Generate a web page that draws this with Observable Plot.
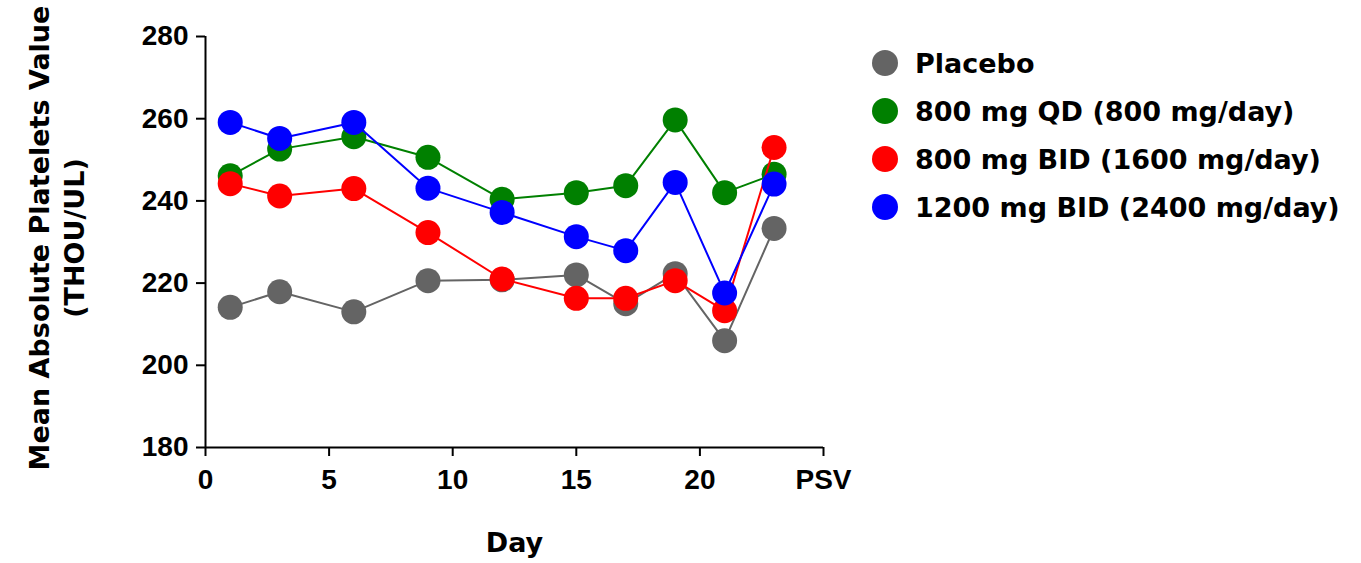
<!DOCTYPE html>
<html>
<head>
<meta charset="utf-8">
<script src="https://cdn.jsdelivr.net/npm/d3@7"></script>
<script src="https://cdn.jsdelivr.net/npm/@observablehq/plot@0.6"></script>
<style>
  html, body { margin: 0; padding: 0; background: #fff; }
  #wrap { position: relative; width: 1361px; height: 563px; }
  #legend { position: absolute; left: 872px; top: 39px; font-family: "DejaVu Sans", sans-serif; font-weight: bold; font-size: 27px; color: #000; }
  .item { display: flex; align-items: center; height: 48px; }
  .sw { width: 26px; height: 26px; border-radius: 50%; margin-right: 17px; }
</style>
</head>
<body>
<div id="wrap"><div id="chart"></div><div id="legend"></div></div>
<script>
const days = [1, 3, 6, 9, 12, 15, 17, 19, 21, 23];
const seriesNames = ["Placebo", "800 mg QD (800 mg/day)", "800 mg BID (1600 mg/day)", "1200 mg BID (2400 mg/day)"];
const seriesColors = ["#646464", "#008000", "#ff0000", "#0000ff"];
const placebo = [214.1, 217.9, 213.0, 220.6, 220.8, 222.0, 215.0, 222.3, 206.0, 233.3];
const qd800   = [246.1, 252.6, 255.6, 250.6, 240.4, 242.0, 243.7, 259.7, 242.0, 246.5];
const bid800  = [244.2, 241.2, 243.0, 232.3, 221.0, 216.3, 216.3, 220.6, 213.3, 253.0];
const bid1200 = [259.1, 255.2, 259.1, 243.1, 237.2, 231.3, 227.9, 244.5, 217.6, 244.1];
const xTicks = [0, 5, 10, 15, 20, 25];
const xTickLabels = ["0", "5", "10", "15", "20", "PSV"];
const yTicks = [180, 200, 220, 240, 260, 280];

const allValues = [placebo, qd800, bid800, bid1200];
const seriesMarks = [];
allValues.forEach((vals, i) => {
  const rows = days.map((d, j) => ({day: d, value: vals[j], series: seriesNames[i]}));
  seriesMarks.push(Plot.line(rows, {x: "day", y: "value", stroke: seriesColors[i], strokeWidth: 2}));
  seriesMarks.push(Plot.dot(rows, {x: "day", y: "value", fill: seriesColors[i], r: 12.5}));
});

const plot = Plot.plot({
  width: 1361,
  height: 563,
  marginLeft: 205,
  marginRight: 538,
  marginTop: 36,
  marginBottom: 116,
  style: {fontFamily: "'Liberation Sans', Arial, sans-serif", fontWeight: "bold", fontSize: "28px", color: "#000", background: "#fff"},
  x: {domain: [0, 25]},
  y: {domain: [180, 280]},
  marks: [
    Plot.axisX({ticks: xTicks, tickFormat: (d) => xTickLabels[xTicks.indexOf(d)], tickSize: 9, tickPadding: 13, strokeWidth: 2,
      label: null}),
    Plot.axisX({ticks: [], label: "Day", labelAnchor: "center", labelArrow: "none", labelOffset: 104,
      fontFamily: "'DejaVu Sans', sans-serif", fontSize: 27}),
    Plot.axisY({ticks: yTicks, tickSize: 9, tickPadding: 8, strokeWidth: 2, label: null}),
    Plot.ruleY([180], {stroke: "#000", strokeWidth: 2}),
    Plot.ruleX([0], {stroke: "#000", strokeWidth: 2}),
    Plot.text(["Mean Absolute Platelets Value\n(THOU/UL)"], {frameAnchor: "left", rotate: -90, dx: -150, dy: -4, lineHeight: 1.3,
      fontFamily: "'DejaVu Sans', sans-serif", fontWeight: "bold", fontSize: 27, fill: "#000", textAnchor: "middle"}),
    ...seriesMarks
  ]
});
document.getElementById("chart").appendChild(plot);

const legend = document.getElementById("legend");
seriesNames.forEach((n, i) => {
  const it = document.createElement("div");
  it.className = "item";
  it.innerHTML = `<span class="sw" style="background:${seriesColors[i]}"></span><span>${n}</span>`;
  legend.appendChild(it);
});
</script>
</body>
</html>
